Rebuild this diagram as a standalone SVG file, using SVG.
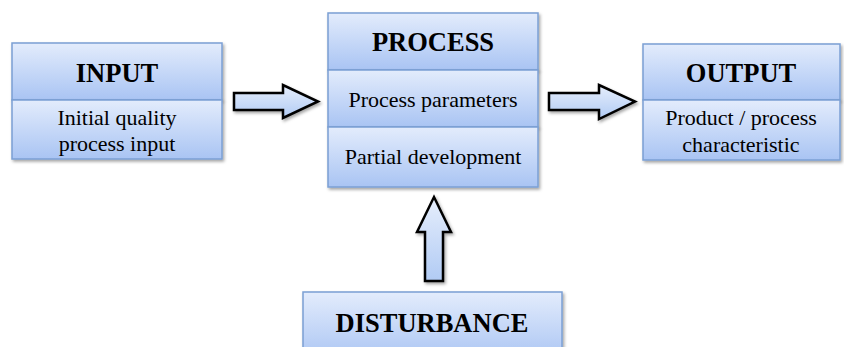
<svg xmlns="http://www.w3.org/2000/svg" width="844" height="347" viewBox="0 0 844 347">
<defs>
<linearGradient id="g" x1="0" y1="0" x2="0" y2="1">
<stop offset="0" stop-color="#e3ecfc"/>
<stop offset="1" stop-color="#a9c4f3"/>
</linearGradient>
<linearGradient id="ga" x1="0" y1="0" x2="0" y2="1">
<stop offset="0" stop-color="#e6eefc"/>
<stop offset="1" stop-color="#b1cbf4"/>
</linearGradient>
<filter id="sh" x="-10%" y="-10%" width="130%" height="130%">
<feDropShadow dx="1.5" dy="2" stdDeviation="1.5" flood-color="#000" flood-opacity="0.35"/>
</filter>
</defs>
<style>
.b{fill:url(#g);stroke:#7b9fd4;stroke-width:1.5;filter:url(#sh)}
.h{font-family:"Liberation Serif",serif;font-weight:bold;font-size:26.5px;fill:#000;text-anchor:middle}
.t{font-family:"Liberation Serif",serif;font-size:22px;fill:#000;text-anchor:middle}
.a{fill:url(#ga);stroke:#000;stroke-width:2.5;stroke-linejoin:miter;filter:url(#sh)}
</style>
<rect width="844" height="347" fill="#fff"/>
<g id="connectors">
<path class="a" d="M234,93 H283 V85 L318,101.5 L283,118 V110 H234 Z"/>
<path class="a" d="M549,93 H599 V85 L635,101.5 L599,119 V110 H549 Z"/>
<path class="a" d="M425,281 V232 H417 L434,197 L451,232 H443 V281 Z"/>
</g>
<g id="input">
<rect class="b" x="12" y="43" width="210" height="57"/>
<rect class="b" x="12" y="100" width="210" height="59"/>
<text class="h" x="117" y="82">INPUT</text>
<text class="t" x="117" y="125">Initial quality</text>
<text class="t" x="117" y="151">process input</text>
</g>
<g id="process">
<rect class="b" x="328" y="13" width="210" height="57"/>
<rect class="b" x="328" y="70" width="210" height="57"/>
<rect class="b" x="328" y="127" width="210" height="60"/>
<text class="h" x="433" y="51">PROCESS</text>
<text class="t" x="433" y="107">Process parameters</text>
<text class="t" x="433" y="164">Partial development</text>
</g>
<g id="output">
<rect class="b" x="643" y="44" width="197" height="56"/>
<rect class="b" x="643" y="100" width="197" height="60"/>
<text class="h" x="741" y="82">OUTPUT</text>
<text class="t" x="741" y="125">Product / process</text>
<text class="t" x="741" y="152">characteristic</text>
</g>
<g id="disturbance">
<rect class="b" x="303" y="292" width="259" height="70"/>
<text class="h" x="432" y="332">DISTURBANCE</text>
</g>
</svg>
